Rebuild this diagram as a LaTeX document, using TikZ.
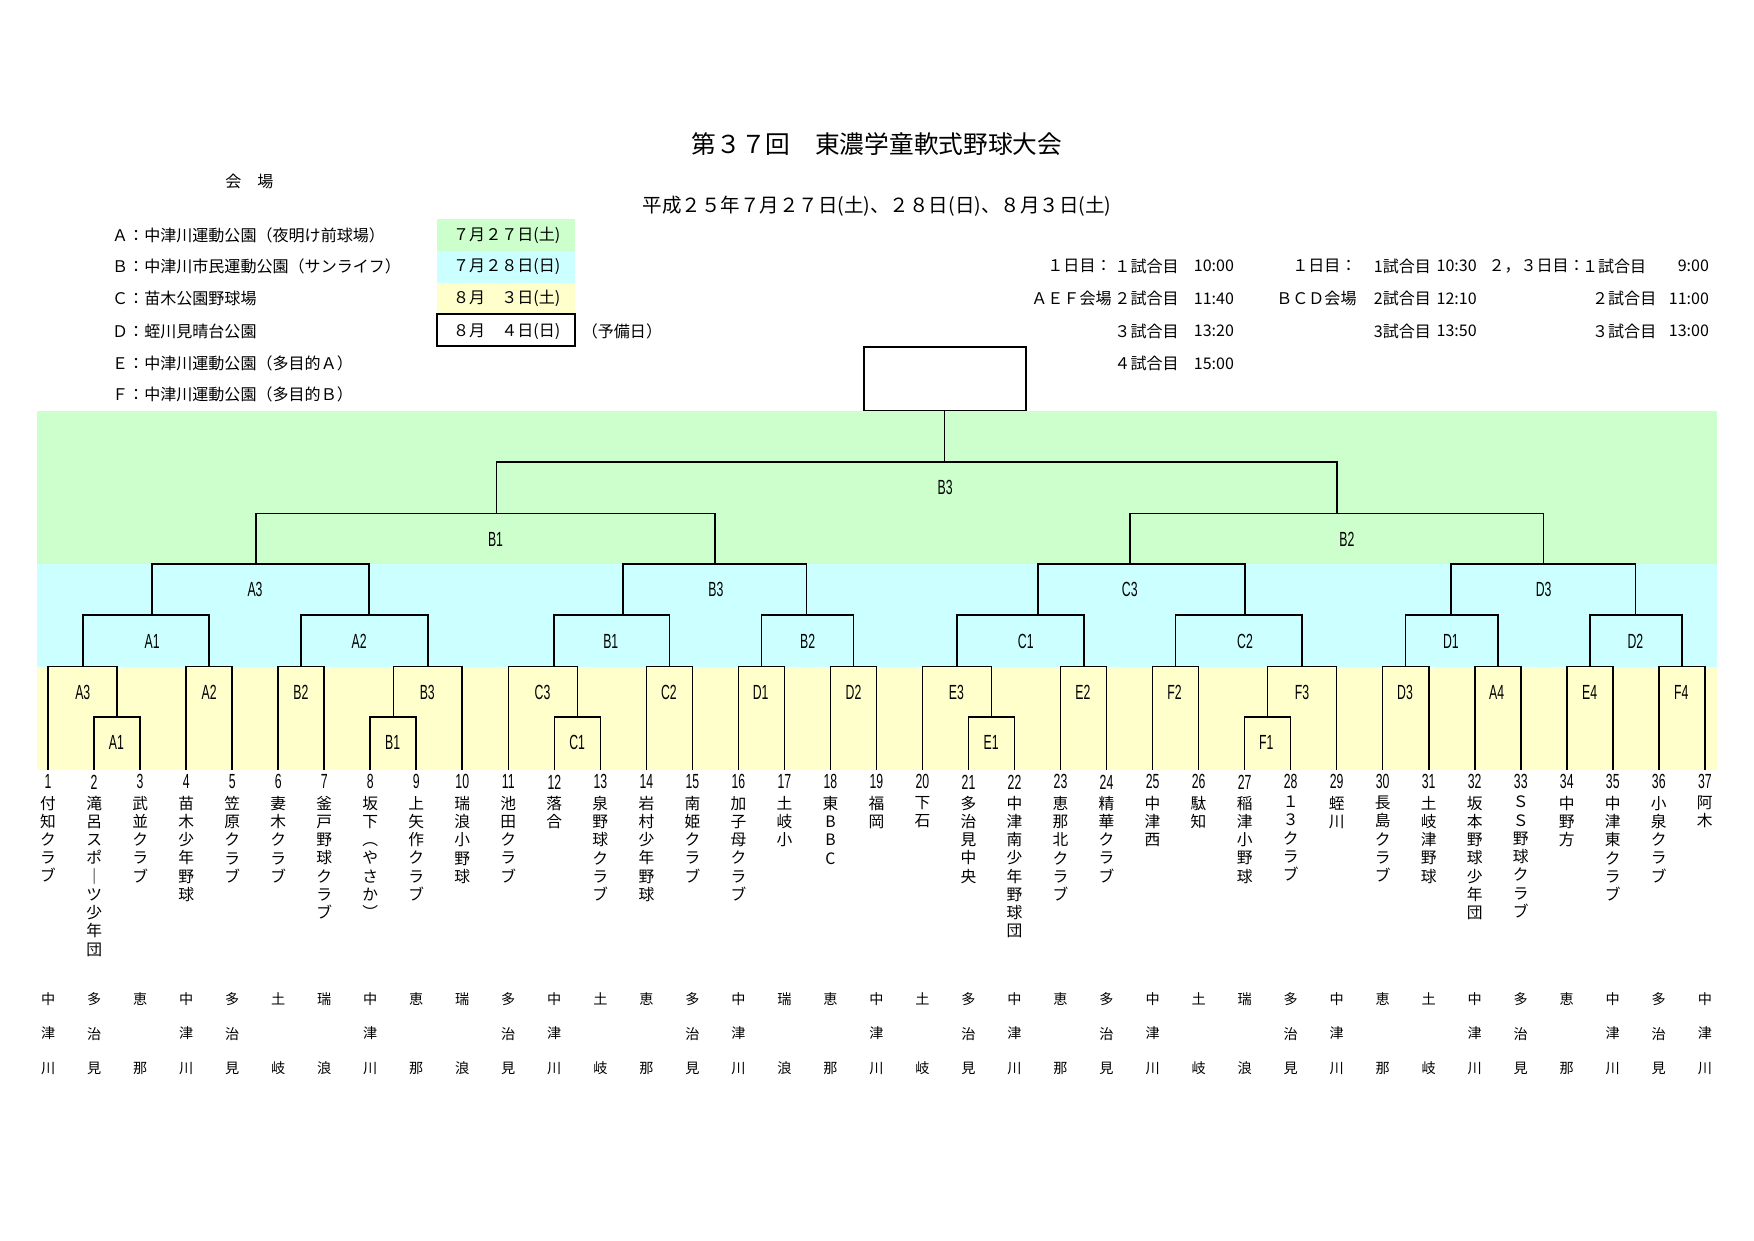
\documentclass[tikz,border=0pt]{standalone}
\usepackage{fontspec}
\setmainfont{Noto Sans CJK JP}
\newfontfamily\narrowfont[FakeStretch=0.6]{Liberation Sans}
\usetikzlibrary{positioning}
\definecolor{bandgreen}{HTML}{CCFFCC}
\definecolor{bandcyan}{HTML}{CCFFFF}
\definecolor{bandyellow}{HTML}{FFFFCC}
\newcommand\tatebox[1]{\vbox{\expandafter\tatenext#1\relax}}
\def\tatenext#1{\ifx#1\relax\else\hbox to 1em{\hss#1\hss}\expandafter\tatenext\fi}
\tikzset{
    game/.style={
           font=\narrowfont\fontsize{13}{15}\selectfont,
           inner sep=0pt,
           },
    teamno/.style={font=\narrowfont\fontsize{13}{15}\selectfont, inner sep=0pt},
    teamname/.style={font=\fontsize{10}{11.6}\selectfont, inner sep=0pt},
    city/.style={font=\fontsize{9}{22}\selectfont, inner sep=0pt, align=center},
    info/.style={font=\fontsize{10.2}{12}\selectfont, inner sep=0pt},
    bracket/.style={line width=1pt},
}
\begin{document}
\begin{tikzpicture}[x=0.025cm, y=-0.025cm]
      \useasboundingbox (0,0) rectangle (1568,1109.4);
      \fill[bandgreen] (33,367) rectangle (1535,504);
      \fill[bandcyan] (33,504) rectangle (1535,596);
      \fill[bandyellow] (33,596) rectangle (1535,688);

      \node[font=\fontsize{15.7}{18}\selectfont, inner sep=0pt] (title) at (784,129) {第３７回　東濃学童軟式野球大会};
      \node[font=\fontsize{12.4}{14}\selectfont, inner sep=0pt] (dates) at (784,184) {平成２５年７月２７日(土)、２８日(日)、８月３日(土)};
      \node[info] (venue) at (223,162) {会　場};

      \node[info, anchor=west] (venue_a) at (100,210) {Ａ：中津川運動公園（夜明け前球場）};
      \node[info, anchor=west] (venue_b) at (100,238) {Ｂ：中津川市民運動公園（サンライフ）};
      \node[info, anchor=west] (venue_c) at (100,267) {Ｃ：苗木公園野球場};
      \node[info, anchor=west] (venue_d) at (100,296) {Ｄ：蛭川見晴台公園};
      \node[info, anchor=west] (venue_e) at (100,325) {Ｅ：中津川運動公園（多目的Ａ）};
      \node[info, anchor=west] (venue_f) at (100,353) {Ｆ：中津川運動公園（多目的Ｂ）};

      \fill[bandgreen] (391,196) rectangle (514,224);
      \fill[bandcyan] (391,224) rectangle (514,252.6);
      \fill[bandyellow] (391,252.6) rectangle (514,281);
      \draw[line width=1.2pt] (391,281) rectangle (514,309);
      \node[info] (day_1) at (453,210) {７月２７日(土)};
      \node[info] (day_2) at (453,238) {７月２８日(日)};
      \node[info] (day_3) at (453,267) {８月　３日(土)};
      \node[info] (day_4) at (453,296) {８月　４日(日)};
      \node[info] (spare) at (556,296) {（予備日）};

      \node[info, anchor=east] (aef_day) at (994,238) {１日目：};
      \node[info, anchor=east] (aef) at (994,267) {ＡＥＦ会場};
      \node[info, anchor=west] (aef_1) at (996,238) {１試合目};
      \node[info, anchor=west] (aef_2) at (996,267) {２試合目};
      \node[info, anchor=west] (aef_3) at (996,296) {３試合目};
      \node[info, anchor=west] (aef_4) at (996,325) {４試合目};
      \node[info, anchor=west] (aef_t1) at (1067,238) {10:00};
      \node[info, anchor=west] (aef_t2) at (1067,267) {11:40};
      \node[info, anchor=west] (aef_t3) at (1067,296) {13:20};
      \node[info, anchor=west] (aef_t4) at (1067,325) {15:00};

      \node[info, anchor=east] (bcd_day) at (1213,238) {１日目：};
      \node[info, anchor=east] (bcd) at (1213,267) {ＢＣＤ会場};
      \node[info, anchor=west] (bcd_1) at (1228,238) {1試合目};
      \node[info, anchor=west] (bcd_2) at (1228,267) {2試合目};
      \node[info, anchor=west] (bcd_3) at (1228,296) {3試合目};
      \node[info, anchor=west] (bcd_t1) at (1284,238) {10:30};
      \node[info, anchor=west] (bcd_t2) at (1284,267) {12:10};
      \node[info, anchor=west] (bcd_t3) at (1284,296) {13:50};

      \node[info, anchor=east] (late_day) at (1417,238) {２，３日目：};
      \node[info, anchor=west] (late_1) at (1414,238) {１試合目};
      \node[info, anchor=west] (late_2) at (1423,267) {２試合目};
      \node[info, anchor=west] (late_3) at (1423,296) {３試合目};
      \node[info, anchor=east] (late_t1) at (1528,238) {9:00};
      \node[info, anchor=east] (late_t2) at (1528,267) {11:00};
      \node[info, anchor=east] (late_t3) at (1528,296) {13:00};

      \node[draw, line width=1.2pt, minimum width=3.625cm, minimum height=1.425cm, inner sep=0pt] (champ) at (844.5,338.5) {};

      \foreach \i/\name in {1/付知クラブ, 2/滝呂スポ｜ツ少年団, 3/武並クラブ, 4/苗木少年野球,
          5/笠原クラブ, 6/妻木クラブ, 7/釜戸野球クラブ, 8/坂下︵やさか︶, 9/上矢作クラブ,
          10/瑞浪小野球, 11/池田クラブ, 12/落合, 13/泉野球クラブ, 14/岩村少年野球,
          15/南姫クラブ, 16/加子母クラブ, 17/土岐小, 18/東BBC, 19/福岡, 20/下石,
          21/多治見中央, 22/中津南少年野球団, 23/恵那北クラブ, 24/精華クラブ, 25/中津西,
          26/駄知, 27/稲津小野球, 28/１３クラブ, 29/蛭川, 30/長島クラブ, 31/土岐津野球,
          32/坂本野球少年団, 33/ＳＳ野球クラブ, 34/中野方, 35/中津東クラブ, 36/小泉クラブ, 37/阿木}
      {
        \coordinate (t_\i) at ({43+41.14*(\i-1)},688);
        \node[teamno] (no_\i) at ({43+41.14*(\i-1)},699) {\i};
        \node[teamname, below=4pt of no_\i] (name_\i) {\tatebox{\name}};
      }

      \foreach \i/\a/\b/\c in {1/中/津/川, 2/多/治/見, 3/恵//那, 4/中/津/川, 5/多/治/見, 6/土//岐,
          7/瑞//浪, 8/中/津/川, 9/恵//那, 10/瑞//浪, 11/多/治/見, 12/中/津/川, 13/土//岐,
          14/恵//那, 15/多/治/見, 16/中/津/川, 17/瑞//浪, 18/恵//那, 19/中/津/川, 20/土//岐,
          21/多/治/見, 22/中/津/川, 23/恵//那, 24/多/治/見, 25/中/津/川, 26/土//岐, 27/瑞//浪,
          28/多/治/見, 29/中/津/川, 30/恵//那, 31/土//岐, 32/中/津/川, 33/多/治/見, 34/恵//那,
          35/中/津/川, 36/多/治/見, 37/中/津/川}
        \node[city] (city_\i) at ({43+41.14*(\i-1)},924) {\a\\\b\\\c};

      \coordinate (r1_a1) at (104.7,641);
      \coordinate (r1_b1) at (351.6,641);
      \coordinate (r1_c1) at (516.1,641);
      \coordinate (r1_e1) at (886.4,641);
      \coordinate (r1_f1) at (1133.2,641);
      \draw[bracket] (t_2) |- (r1_a1) -| (t_3);
      \draw[bracket] (t_8) |- (r1_b1) -| (t_9);
      \draw[bracket] (t_12) |- (r1_c1) -| (t_13);
      \draw[bracket] (t_21) |- (r1_e1) -| (t_22);
      \draw[bracket] (t_27) |- (r1_f1) -| (t_28);
      \node[game] (g1_a1) at (104,664) {A1};
      \node[game] (g1_b1) at (351,664) {B1};
      \node[game] (g1_c1) at (516,664) {C1};
      \node[game] (g1_e1) at (886,664) {E1};
      \node[game] (g1_f1) at (1132,664) {F1};

      \coordinate (r2_a3) at (74,596);
      \coordinate (r2_a2) at (187,596);
      \coordinate (r2_b2) at (269.3,596);
      \coordinate (r2_b3) at (382.4,596);
      \coordinate (r2_c3) at (495,596);
      \coordinate (r2_c2) at (598.4,596);
      \coordinate (r2_d1) at (680.7,596);
      \coordinate (r2_d2) at (763,596);
      \coordinate (r2_e3) at (855.5,596);
      \coordinate (r2_e2) at (968.8,596);
      \coordinate (r2_f2) at (1051,596);
      \coordinate (r2_f3) at (1164,596);
      \coordinate (r2_d3) at (1256.6,596);
      \coordinate (r2_a4) at (1338.9,596);
      \coordinate (r2_e4) at (1421.2,596);
      \coordinate (r2_f4) at (1503.4,596);
      \draw[bracket] (t_1) |- (r2_a3) -| (r1_a1);
      \draw[bracket] (t_4) |- (r2_a2) -| (t_5);
      \draw[bracket] (t_6) |- (r2_b2) -| (t_7);
      \draw[bracket] (r1_b1) |- (r2_b3) -| (t_10);
      \draw[bracket] (t_11) |- (r2_c3) -| (r1_c1);
      \draw[bracket] (t_14) |- (r2_c2) -| (t_15);
      \draw[bracket] (t_16) |- (r2_d1) -| (t_17);
      \draw[bracket] (t_18) |- (r2_d2) -| (t_19);
      \draw[bracket] (t_20) |- (r2_e3) -| (r1_e1);
      \draw[bracket] (t_23) |- (r2_e2) -| (t_24);
      \draw[bracket] (t_25) |- (r2_f2) -| (t_26);
      \draw[bracket] (r1_f1) |- (r2_f3) -| (t_29);
      \draw[bracket] (t_30) |- (r2_d3) -| (t_31);
      \draw[bracket] (t_32) |- (r2_a4) -| (t_33);
      \draw[bracket] (t_34) |- (r2_e4) -| (t_35);
      \draw[bracket] (t_36) |- (r2_f4) -| (t_37);
      \node[game] (g2_a3) at (74,619) {A3};
      \node[game] (g2_a2) at (187,619) {A2};
      \node[game] (g2_b2) at (269,619) {B2};
      \node[game] (g2_b3) at (382,619) {B3};
      \node[game] (g2_c3) at (485,619) {C3};
      \node[game] (g2_c2) at (598,619) {C2};
      \node[game] (g2_d1) at (680,619) {D1};
      \node[game] (g2_d2) at (763,619) {D2};
      \node[game] (g2_e3) at (855,619) {E3};
      \node[game] (g2_e2) at (968,619) {E2};
      \node[game] (g2_f2) at (1050,619) {F2};
      \node[game] (g2_f3) at (1164,619) {F3};
      \node[game] (g2_d3) at (1256,619) {D3};
      \node[game] (g2_a4) at (1338,619) {A4};
      \node[game] (g2_e4) at (1421,619) {E4};
      \node[game] (g2_f4) at (1503,619) {F4};

      \coordinate (r3_a1) at (136,550);
      \coordinate (r3_a2) at (330,550);
      \coordinate (r3_b1) at (557,550);
      \coordinate (r3_b2) at (721,550);
      \coordinate (r3_c1) at (928,550);
      \coordinate (r3_c2) at (1113,550);
      \coordinate (r3_d1) at (1297,550);
      \coordinate (r3_d2) at (1462,550);
      \draw[bracket] (r2_a3) |- (r3_a1) -| (r2_a2);
      \draw[bracket] (r2_b2) |- (r3_a2) -| (r2_b3);
      \draw[bracket] (r2_c3) |- (r3_b1) -| (r2_c2);
      \draw[bracket] (r2_d1) |- (r3_b2) -| (r2_d2);
      \draw[bracket] (r2_e3) |- (r3_c1) -| (r2_e2);
      \draw[bracket] (r2_f2) |- (r3_c2) -| (r2_f3);
      \draw[bracket] (r2_d3) |- (r3_d1) -| (r2_a4);
      \draw[bracket] (r2_e4) |- (r3_d2) -| (r2_f4);
      \node[game] (g3_a1) at (136,573) {A1};
      \node[game] (g3_a2) at (321,573) {A2};
      \node[game] (g3_b1) at (546,573) {B1};
      \node[game] (g3_b2) at (722,573) {B2};
      \node[game] (g3_c1) at (917,573) {C1};
      \node[game] (g3_c2) at (1113,573) {C2};
      \node[game] (g3_d1) at (1297,573) {D1};
      \node[game] (g3_d2) at (1462,573) {D2};

      \coordinate (r4_a3) at (229,504);
      \coordinate (r4_b3) at (639,504);
      \coordinate (r4_c3) at (1010,504);
      \coordinate (r4_d3) at (1380,504);
      \draw[bracket] (r3_a1) |- (r4_a3) -| (r3_a2);
      \draw[bracket] (r3_b1) |- (r4_b3) -| (r3_b2);
      \draw[bracket] (r3_c1) |- (r4_c3) -| (r3_c2);
      \draw[bracket] (r3_d1) |- (r4_d3) -| (r3_d2);
      \node[game] (g4_a3) at (228,527) {A3};
      \node[game] (g4_b3) at (640,527) {B3};
      \node[game] (g4_c3) at (1010,527) {C3};
      \node[game] (g4_d3) at (1380,527) {D3};

      \coordinate (r5_b1) at (444,459);
      \coordinate (r5_b2) at (1195,459);
      \draw[bracket] (r4_a3) |- (r5_b1) -| (r4_b3);
      \draw[bracket] (r4_c3) |- (r5_b2) -| (r4_d3);
      \node[game] (g5_b1) at (443,482) {B1};
      \node[game] (g5_b2) at (1204,482) {B2};

      \coordinate (final) at (844.5,413);
      \draw[bracket] (r5_b1) |- (final) -| (r5_b2);
      \draw[line width=0.5pt] (final) -- (champ.south);
      \node[game] (g6_b3) at (845,436) {B3};
\end{tikzpicture}
\end{document}
